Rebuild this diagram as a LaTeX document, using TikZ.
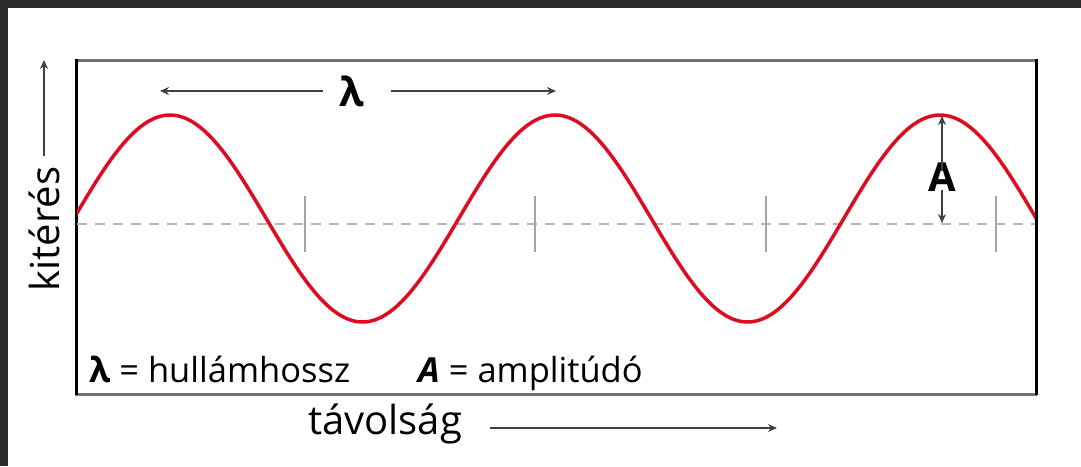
\documentclass[tikz,border=0pt]{standalone}
\usepackage{fontspec}
\setmainfont{Open Sans}
\usetikzlibrary{arrows.meta}

\definecolor{hullamszin}{RGB}{222,12,30}
\definecolor{keretszin}{RGB}{42,42,42}
\definecolor{tengelyszin}{RGB}{165,165,165}

\tikzset{
  nyil/.style={draw=black!75, line width=2pt, -{Stealth[length=9pt,width=8pt]}},
  hullam/.style={draw=hullamszin, line width=3.5pt},
  jelolo/.style={draw=tengelyszin, line width=2.5pt},
  felirat/.style={font=\fontsize{40}{46}\selectfont, inner sep=0pt},
  jelmagyarazat/.style={font=\fontsize{34.5}{40}\selectfont, anchor=base west, inner sep=0pt}
}

\begin{document}
\begin{tikzpicture}[x=1pt, y=-1pt]
  \useasboundingbox (0,0) rectangle (1081,466);
  \fill[white] (0,0) rectangle (1081,466);

  % sotet szegely fent es balra
  \fill[keretszin] (0,0) rectangle (1081,8);
  \fill[keretszin] (0,0) rectangle (8,466);

  % doboz
  \draw[black!55, line width=3pt] (75,60) -- (1037,60);
  \draw[black!55, line width=3pt] (75,394) -- (1037,394);
  \draw[black, line width=3pt] (76,59) -- (76,395);
  \draw[black, line width=3pt] (1036,59) -- (1036,395);

  % nyugalmi helyzet es jelolok
  \draw[tengelyszin!80, line width=2pt, dash pattern=on 10pt off 8pt] (77,224) -- (1035,224);
  \foreach \x in {305,535,766,996}
    \draw[jelolo] (\x,196) -- (\x,252);

  % szinuszhullam
  \begin{scope}
    \clip (77,59) rectangle (1035,395);
    \draw[hullam, domain=70:1040, samples=240, smooth]
      plot (\x, {218.5-103.5*sin(0.935065*(\x-73.75))});
  \end{scope}

  % hullamhossz
  \node[felirat, font=\fontsize{40}{46}\selectfont\bfseries] (lambda) at (352,91) {λ};
  \coordinate (lbal) at (160,91);
  \coordinate (ljobb) at (556,91);
  \draw[nyil] ([xshift=-16pt]lambda.west) -- (lbal);
  \draw[nyil] ([xshift=26pt]lambda.east) -- (ljobb);

  % amplitudo
  \node[felirat, font=\fontsize{40}{46}\selectfont\bfseries] (ampl) at (942,177) {A};
  \coordinate (csucs) at (942,116);
  \coordinate (alap) at (942,223);
  \draw[nyil] ([yshift=-9pt]ampl.north) -- (csucs);
  \draw[nyil] ([yshift=2pt]ampl.south) -- (alap);

  % tengelyfeliratok
  \node[felirat, rotate=90] (kiteres) at (44,229) {kitérés};
  \coordinate (ktet) at (46,60);
  \draw[nyil] ([yshift=10pt]kiteres.east) -- (kiteres.east |- ktet);

  \node[felirat] (tavolsag) at (385,424) {távolság};
  \coordinate (tveg) at (777,428);
  \draw[nyil] ([xshift=28pt]tavolsag.east |- tveg) -- (tveg);

  % jelmagyarazat
  \node[jelmagyarazat] (jlambda) at (89,382) {\textbf{λ} = hullámhossz};
  \node[jelmagyarazat] (jampl) at (418,382) {\textbf{\itshape A} = amplitúdó};
\end{tikzpicture}
\end{document}
